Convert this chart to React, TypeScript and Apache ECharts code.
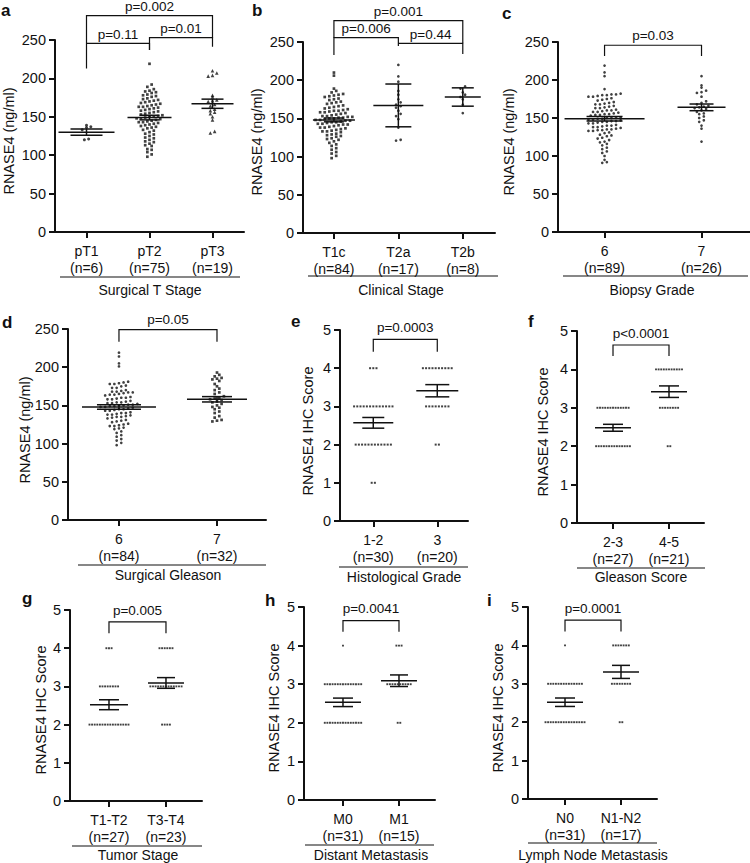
import React, { useEffect, useRef } from 'react';
import * as echarts from 'echarts';

const FONT = '"Liberation Sans", Arial, Helvetica, sans-serif';
const INK = '#111111';

// ---------- a: Surgical T Stage (ng/ml) ----------
const aCategories = ['pT1', 'pT2', 'pT3'];
const aN = [6, 75, 19];
const aPT1 = [139, 137, 136, 133, 121, 120];
const aPT2 = [219, 192, 189, 186, 184, 183, 182, 181, 179, 178, 177, 176, 174, 173, 172, 171, 170, 169, 168,
  167, 166, 165, 164, 163, 163, 162, 161, 160, 159, 158, 157, 156, 155, 154, 153, 152, 151, 150, 150, 149, 148, 148,
  147, 146, 145, 144, 143, 143, 142, 141, 140, 139, 138, 137, 136, 135, 133, 132, 130, 128, 127, 125, 123, 122, 120,
  118, 117, 115, 113, 112, 108, 107, 104, 101, 98];
const aPT3 = [210, 207, 204, 203, 178, 176, 172, 171, 170, 166, 164, 160, 158, 156, 154, 150, 146, 131, 129];
const aMeans = [130, 149, 167];
const aErrors = [4, 3, 6];
const aPLabels = ['p=0.11', 'p=0.01', 'p=0.002'];

// ---------- b: Clinical Stage (ng/ml) ----------
const bCategories = ['T1c', 'T2a', 'T2b'];
const bN = [84, 17, 8];
const bT1c = [210, 206, 189, 186, 184, 182, 181, 180, 179, 178, 176, 175, 174, 172, 171, 170, 169, 167, 166, 165,
  164, 163, 162, 161, 160, 160, 159, 158, 158, 157, 156, 155, 154, 153, 153, 152, 152, 151, 151, 150, 150, 149, 148,
  148, 147, 147, 146, 145, 145, 144, 143, 143, 142, 142, 141, 140, 139, 138, 138, 137, 136, 135, 134, 133, 133, 132,
  130, 129, 128, 127, 126, 124, 123, 122, 120, 118, 116, 114, 111, 109, 106, 104, 101, 98];
const bT2a = [220, 205, 198, 186, 181, 175, 171, 168, 166, 164, 160, 156, 153, 149, 138, 122, 121];
const bT2b = [192, 189, 184, 181, 178, 175, 168, 157];
const bMeans = [148, 167, 178];
const bErrors = [2.5, 28, 12];
const bPLabels = ['p=0.006', 'p=0.44', 'p=0.001'];

// ---------- c: Biopsy Grade (ng/ml) ----------
const cCategories = ['6', '7'];
const cN = [89, 26];
const cGrade6 = [219, 210, 205, 188, 182, 181, 181, 180, 180, 179, 178, 178, 176, 175, 174, 173, 171, 170, 169, 168,
  168, 166, 165, 164, 163, 163, 161, 160, 160, 159, 158, 158, 157, 156, 155, 155, 154, 154, 153, 151, 151, 150, 150,
  149, 149, 148, 148, 147, 146, 146, 145, 145, 144, 143, 143, 141, 140, 140, 139, 138, 138, 137, 136, 135, 135, 134,
  134, 133, 133, 131, 130, 128, 127, 126, 124, 123, 121, 119, 118, 116, 114, 111, 109, 106, 104, 100, 95, 92, 91];
const cGrade7 = [205, 193, 190, 186, 184, 183, 178, 172, 170, 168, 166, 165, 164, 163, 162, 160, 158, 156, 155, 152,
  150, 147, 145, 140, 136, 119];
const cMeans = [149, 164];
const cErrors = [3, 4.4];
const cPLabels = ['p=0.03'];

// ---------- d: Surgical Gleason (ng/ml) ----------
const dCategories = ['6', '7'];
const dN = [84, 32];
const dGleason6 = [219, 214, 205, 201, 181, 180, 179, 178, 178, 176, 175, 173, 173, 170, 169, 168, 168, 167, 167, 166,
  165, 164, 164, 163, 161, 160, 160, 159, 158, 158, 156, 155, 154, 154, 153, 153, 152, 151, 151, 150, 150, 149, 149,
  148, 148, 147, 146, 145, 145, 144, 143, 143, 141, 140, 140, 139, 138, 138, 137, 136, 135, 135, 134, 133, 131, 130,
  129, 128, 126, 125, 124, 123, 123, 121, 120, 119, 116, 114, 111, 109, 106, 104, 101, 98];
const dGleason7 = [193, 190, 188, 186, 185, 184, 182, 178, 175, 172, 170, 167, 165, 162, 160, 159, 158, 157, 155, 154,
  152, 150, 148, 147, 145, 142, 140, 136, 134, 131, 130, 129];
const dMeans = [148, 158];
const dErrors = [3, 3.5];
const dPLabels = ['p=0.05'];

// ---------- IHC score panels: counts of cases at score 0,1,2,3,4,5 ----------
const eCategories = ['1-2', '3'];
const eN = [30, 20];
const eCounts12 = [0, 2, 12, 13, 3, 0];
const eCounts3 = [0, 0, 2, 8, 10, 0];
const eMeans = [2.57, 3.41];
const eErrors = [0.14, 0.16];
const ePLabels = ['p=0.0003'];

const fCategories = ['2-3', '4-5'];
const fN = [27, 21];
const fCounts23 = [0, 0, 14, 13, 0, 0];
const fCounts45 = [0, 0, 2, 8, 11, 0];
const fMeans = [2.48, 3.42];
const fErrors = [0.09, 0.15];
const fPLabels = ['p<0.0001'];

const gCategories = ['T1-T2', 'T3-T4'];
const gN = [27, 23];
const gCountsT12 = [0, 0, 16, 8, 3, 0];
const gCountsT34 = [0, 0, 4, 13, 6, 0];
const gMeans = [2.52, 3.09];
const gErrors = [0.13, 0.14];
const gPLabels = ['p=0.005'];

const hCategories = ['M0', 'M1'];
const hN = [31, 15];
const hCountsM0 = [0, 0, 15, 15, 1, 0];
const hCountsM1 = [0, 0, 2, 10, 3, 0];
const hMeans = [2.53, 3.09];
const hErrors = [0.11, 0.15];
const hPLabels = ['p=0.0041'];

const iCategories = ['N0', 'N1-N2'];
const iN = [31, 17];
const iCountsN0 = [0, 0, 16, 14, 1, 0];
const iCountsN12 = [0, 0, 2, 8, 7, 0];
const iMeans = [2.52, 3.31];
const iErrors = [0.11, 0.17];
const iPLabels = ['p=0.0001'];

const IHC_NAME = 'RNASE4 IHC Score';
const NG_NAME = 'RNASE4 (ng/ml)';

function expandCounts(counts: number[]): number[] {
  const out: number[] = [];
  counts.forEach((c, score) => {
    for (let k = 0; k < c; k++) out.push(score);
  });
  return out;
}

type Bracket = { from: number; to: number; top: number; legL: number; legR: number; label: string };

type Panel = {
  letter: string;
  letterPos: [number, number];
  grid: { left: number; top: number; width: number; height: number };
  xRange: [number, number];
  yMax: number;
  yInterval: number;
  yName: string;
  yNamePos: [number, number];
  categories: string[];
  ns: number[];
  groups: number[][];
  means: number[];
  errors: number[];
  symbols: string[];
  symbolSizes: number[];
  dxPx: number;
  binSize: number;
  meanHalf: number[];
  capHalf: number[];
  brackets: Bracket[];
  textGap: number;
  title: string;
  titlePos: [number, number];
  underline: [number, number, number];
};

const PANELS: Panel[] = [
  {
    letter: 'a', letterPos: [1, 10],
    grid: { left: 55, top: 40, width: 189, height: 192 },
    xRange: [-0.5, 2.5], yMax: 250, yInterval: 50, yName: NG_NAME, yNamePos: [9, 141],
    categories: aCategories, ns: aN, groups: [aPT1, aPT2, aPT3], means: aMeans, errors: aErrors,
    symbols: ['circle', 'rect', 'triangle'], symbolSizes: [3, 2.7, 3.6], dxPx: 4.3, binSize: 5,
    meanHalf: [28, 22, 21], capHalf: [16, 10, 11],
    brackets: [
      { from: 0, to: 1, top: 245.7, legL: 213, legR: 237, label: aPLabels[0] },
      { from: 1, to: 2, top: 253, legL: 237, legR: 241.3, label: aPLabels[1] },
      { from: 0, to: 2, top: 281.7, legL: 245.7, legR: 253, label: aPLabels[2] },
    ],
    textGap: 9,
    title: 'Surgical T Stage', titlePos: [150, 290], underline: [60, 240, 277],
  },
  {
    letter: 'b', letterPos: [252, 10],
    grid: { left: 303, top: 42, width: 192, height: 191 },
    xRange: [-0.48, 2.5], yMax: 250, yInterval: 50, yName: NG_NAME, yNamePos: [257, 142],
    categories: bCategories, ns: bN, groups: [bT1c, bT2a, bT2b], means: bMeans, errors: bErrors,
    symbols: ['rect', 'circle', 'circle'], symbolSizes: [2.7, 2.7, 2.7], dxPx: 4.6, binSize: 5,
    meanHalf: [21, 25, 18], capHalf: [10, 13, 11],
    brackets: [
      { from: 0, to: 1, top: 255.7, legL: 233, legR: 244.8, label: bPLabels[0] },
      { from: 1, to: 2, top: 248.3, legL: 248.3, legR: 234.3, label: bPLabels[1] },
      { from: 0, to: 2, top: 277.9, legL: 255.7, legR: 248.3, label: bPLabels[2] },
    ],
    textGap: 9,
    title: 'Clinical Stage', titlePos: [401, 290], underline: [308, 498, 276],
  },
  {
    letter: 'c', letterPos: [502, 13],
    grid: { left: 558, top: 42, width: 192, height: 190 },
    xRange: [-0.48, 1.5], yMax: 250, yInterval: 50, yName: NG_NAME, yNamePos: [509, 142],
    categories: cCategories, ns: cN, groups: [cGrade6, cGrade7], means: cMeans, errors: cErrors,
    symbols: ['circle', 'circle'], symbolSizes: [2.7, 2.7], dxPx: 4.6, binSize: 5,
    meanHalf: [40, 24], capHalf: [18, 12],
    brackets: [{ from: 0, to: 1, top: 245.7, legL: 231.7, legR: 231.7, label: cPLabels[0] }],
    textGap: 10,
    title: 'Biopsy Grade', titlePos: [652, 290], underline: [563, 748, 276],
  },
  {
    letter: 'd', letterPos: [2, 322],
    grid: { left: 68, top: 329, width: 198, height: 191 },
    xRange: [-0.52, 1.5], yMax: 250, yInterval: 50, yName: NG_NAME, yNamePos: [25, 430],
    categories: dCategories, ns: dN, groups: [dGleason6, dGleason7], means: dMeans, errors: dErrors,
    symbols: ['circle', 'rect'], symbolSizes: [2.7, 2.7], dxPx: 4.6, binSize: 5,
    meanHalf: [37, 30], capHalf: [22, 15],
    brackets: [{ from: 0, to: 1, top: 249.1, legL: 233.4, legR: 233.4, label: dPLabels[0] }],
    textGap: 10,
    title: 'Surgical Gleason', titlePos: [168, 575], underline: [78, 266, 565],
  },
  {
    letter: 'e', letterPos: [291, 321],
    grid: { left: 340, top: 330, width: 128, height: 191 },
    xRange: [-0.52, 1.48], yMax: 5, yInterval: 1, yName: IHC_NAME, yNamePos: [308, 431],
    categories: eCategories, ns: eN, groups: [expandCounts(eCounts12), expandCounts(eCounts3)], means: eMeans, errors: eErrors,
    symbols: ['rect', 'rect'], symbolSizes: [2, 2], dxPx: 3.2, binSize: 1,
    meanHalf: [20, 21], capHalf: [11, 12],
    brackets: [{ from: 0, to: 1, top: 4.757, legL: 4.43, legR: 4.43, label: ePLabels[0] }],
    textGap: 11.5,
    title: 'Histological Grade', titlePos: [404, 577], underline: [339, 468, 567],
  },
  {
    letter: 'f', letterPos: [528, 321],
    grid: { left: 577, top: 331, width: 127, height: 192 },
    xRange: [-0.643, 1.625], yMax: 5, yInterval: 1, yName: IHC_NAME, yNamePos: [543, 432],
    categories: fCategories, ns: fN, groups: [expandCounts(fCounts23), expandCounts(fCounts45)], means: fMeans, errors: fErrors,
    symbols: ['rect', 'rect'], symbolSizes: [1.9, 1.9], dxPx: 2.6, binSize: 1,
    meanHalf: [18, 18], capHalf: [10, 10],
    brackets: [{ from: 0, to: 1, top: 4.635, legL: 4.35, legR: 4.35, label: fPLabels[0] }],
    textGap: 12,
    title: 'Gleason Score', titlePos: [641, 577], underline: [577, 705, 568],
  },
  {
    letter: 'g', letterPos: [22, 598],
    grid: { left: 70, top: 610, width: 132, height: 191 },
    xRange: [-0.684, 1.632], yMax: 5, yInterval: 1, yName: IHC_NAME, yNamePos: [41, 710],
    categories: gCategories, ns: gN, groups: [expandCounts(gCountsT12), expandCounts(gCountsT34)], means: gMeans, errors: gErrors,
    symbols: ['rect', 'rect'], symbolSizes: [1.9, 1.9], dxPx: 2.6, binSize: 1,
    meanHalf: [19, 18], capHalf: [10, 9],
    brackets: [{ from: 0, to: 1, top: 4.69, legL: 4.39, legR: 4.39, label: gPLabels[0] }],
    textGap: 11.7,
    title: 'Tumor Stage', titlePos: [138, 855], underline: [72, 202, 846],
  },
  {
    letter: 'h', letterPos: [265, 600],
    grid: { left: 304, top: 607, width: 131, height: 193 },
    xRange: [-0.696, 1.643], yMax: 5, yInterval: 1, yName: IHC_NAME, yNamePos: [274, 708],
    categories: hCategories, ns: hN, groups: [expandCounts(hCountsM0), expandCounts(hCountsM1)], means: hMeans, errors: hErrors,
    symbols: ['rect', 'rect'], symbolSizes: [1.9, 1.9], dxPx: 2.6, binSize: 1,
    meanHalf: [18, 18], capHalf: [10, 9],
    brackets: [{ from: 0, to: 1, top: 4.645, legL: 4.36, legR: 4.36, label: hPLabels[0] }],
    textGap: 12.5,
    title: 'Distant Metastasis', titlePos: [371, 855], underline: [305, 434, 845],
  },
  {
    letter: 'i', letterPos: [487, 600],
    grid: { left: 528, top: 607, width: 129, height: 192 },
    xRange: [-0.661, 1.643], yMax: 5, yInterval: 1, yName: IHC_NAME, yNamePos: [498, 708],
    categories: iCategories, ns: iN, groups: [expandCounts(iCountsN0), expandCounts(iCountsN12)], means: iMeans, errors: iErrors,
    symbols: ['rect', 'rect'], symbolSizes: [1.9, 1.9], dxPx: 2.6, binSize: 1,
    meanHalf: [18, 18], capHalf: [10, 9],
    brackets: [{ from: 0, to: 1, top: 4.66, legL: 4.36, legR: 4.36, label: iPLabels[0] }],
    textGap: 12,
    title: 'Lymph Node Metastasis', titlePos: [593, 855], underline: [528, 657, 843],
  },
];

// column-scatter layout: values falling in the same row are spread side by side
function swarm(values: number[], center: number, binSize: number, dxUnits: number): number[][] {
  const rows = new Map<number, number[]>();
  values.forEach((v) => {
    const r = Math.round(v / binSize);
    if (!rows.has(r)) rows.set(r, []);
    rows.get(r)!.push(v);
  });
  const out: number[][] = [];
  rows.forEach((vs) => {
    vs.sort((p, q) => p - q);
    vs.forEach((v, j) => {
      out.push([center + (j - (vs.length - 1) / 2) * dxUnits, v]);
    });
  });
  return out;
}

function buildOption() {
  const grids: any[] = [];
  const xAxes: any[] = [];
  const yAxes: any[] = [];
  const series: any[] = [];
  const elements: any[] = [];

  PANELS.forEach((p, k) => {
    grids.push({ ...p.grid });
    const idx = p.categories.map((_, i) => i);
    xAxes.push({
      type: 'value', gridIndex: k, min: p.xRange[0], max: p.xRange[1],
      axisLine: { show: true, onZero: false, lineStyle: { color: INK, width: 2 } },
      axisTick: { show: true, customValues: idx, length: 6, lineStyle: { color: INK, width: 2 } },
      axisLabel: {
        show: true, customValues: idx, margin: 10, fontSize: 14, lineHeight: 17, color: INK, fontFamily: FONT,
        formatter: (v: number) => {
          const i = Math.round(v);
          return `${p.categories[i]}\n(n=${p.ns[i]})`;
        },
      },
      splitLine: { show: false },
    });
    yAxes.push({
      type: 'value', gridIndex: k, min: 0, max: p.yMax, interval: p.yInterval,
      axisLine: { show: true, onZero: false, lineStyle: { color: INK, width: 2 } },
      axisTick: { show: true, length: 6, lineStyle: { color: INK, width: 2 } },
      axisLabel: { margin: 9, fontSize: 14.5, color: INK, fontFamily: FONT },
      splitLine: { show: false },
    });

    const dxUnits = (p.dxPx * (p.xRange[1] - p.xRange[0])) / p.grid.width;
    p.groups.forEach((vals, g) => {
      series.push({
        type: 'scatter', xAxisIndex: k, yAxisIndex: k, silent: true,
        symbol: p.symbols[g], symbolSize: p.symbolSizes[g],
        itemStyle: { color: INK },
        data: swarm(vals, g, p.binSize, dxUnits),
        z: 2,
      });
    });

    series.push({
      type: 'custom', xAxisIndex: k, yAxisIndex: k, silent: true, clip: false, z: 4,
      data: p.means.map((m, i) => [i, m, p.errors[i]]),
      renderItem: (params: any, api: any) => {
        const i = params.dataIndex;
        const x = api.value(0);
        const m = api.value(1);
        const e = api.value(2);
        const c = api.coord([x, m]);
        const lo = api.coord([x, m - e]);
        const hi = api.coord([x, m + e]);
        const mh = p.meanHalf[i];
        const ch = p.capHalf[i];
        const st = { stroke: INK, lineWidth: 1.5 };
        return {
          type: 'group',
          children: [
            { type: 'line', shape: { x1: c[0] - mh, y1: c[1], x2: c[0] + mh, y2: c[1] }, style: st },
            { type: 'line', shape: { x1: c[0], y1: lo[1], x2: c[0], y2: hi[1] }, style: st },
            { type: 'line', shape: { x1: c[0] - ch, y1: lo[1], x2: c[0] + ch, y2: lo[1] }, style: st },
            { type: 'line', shape: { x1: c[0] - ch, y1: hi[1], x2: c[0] + ch, y2: hi[1] }, style: st },
          ],
        };
      },
    });

    series.push({
      type: 'custom', xAxisIndex: k, yAxisIndex: k, silent: true, clip: false, z: 4,
      data: p.brackets.map((b) => [b.from, b.to, b.top, b.legL, b.legR]),
      renderItem: (params: any, api: any) => {
        const b = p.brackets[params.dataIndex];
        const x0 = api.value(0);
        const x1 = api.value(1);
        const pL = api.coord([x0, api.value(3)]);
        const tL = api.coord([x0, api.value(2)]);
        const tR = api.coord([x1, api.value(2)]);
        const pR = api.coord([x1, api.value(4)]);
        return {
          type: 'group',
          children: [
            { type: 'polyline', shape: { points: [pL, tL, tR, pR] }, style: { stroke: INK, lineWidth: 1.2, fill: 'none' } },
            {
              type: 'text', x: (tL[0] + tR[0]) / 2, y: tL[1] - p.textGap,
              style: { text: b.label, fill: INK, font: `13.5px ${FONT}`, align: 'center', verticalAlign: 'middle' },
            },
          ],
        };
      },
    });

    elements.push({
      type: 'text', x: p.letterPos[0], y: p.letterPos[1],
      style: { text: p.letter, fill: INK, font: `bold 17px ${FONT}`, align: 'left', verticalAlign: 'middle' },
    });
    elements.push({
      type: 'text', x: p.yNamePos[0], y: p.yNamePos[1], rotation: Math.PI / 2,
      style: { text: p.yName, fill: INK, font: `14.5px ${FONT}`, align: 'center', verticalAlign: 'middle' },
    });
    elements.push({
      type: 'line', shape: { x1: p.underline[0], y1: p.underline[2], x2: p.underline[1], y2: p.underline[2] },
      style: { stroke: INK, lineWidth: 1.2 },
    });
    elements.push({
      type: 'text', x: p.titlePos[0], y: p.titlePos[1],
      style: { text: p.title, fill: INK, font: `14px ${FONT}`, align: 'center', verticalAlign: 'middle' },
    });
  });

  return {
    animation: false,
    backgroundColor: '#ffffff',
    textStyle: { fontFamily: FONT },
    grid: grids,
    xAxis: xAxes,
    yAxis: yAxes,
    series,
    graphic: { elements },
  };
}

export default function App() {
  const ref = useRef<HTMLDivElement>(null);
  useEffect(() => {
    if (!ref.current) return;
    const chart = echarts.init(ref.current, undefined, { renderer: 'svg' });
    chart.setOption(buildOption() as any);
    return () => chart.dispose();
  }, []);
  return (
    <div
      ref={ref}
      style={{ position: 'fixed', left: 0, top: 0, width: 750, height: 863, background: '#fff' }}
    />
  );
}
